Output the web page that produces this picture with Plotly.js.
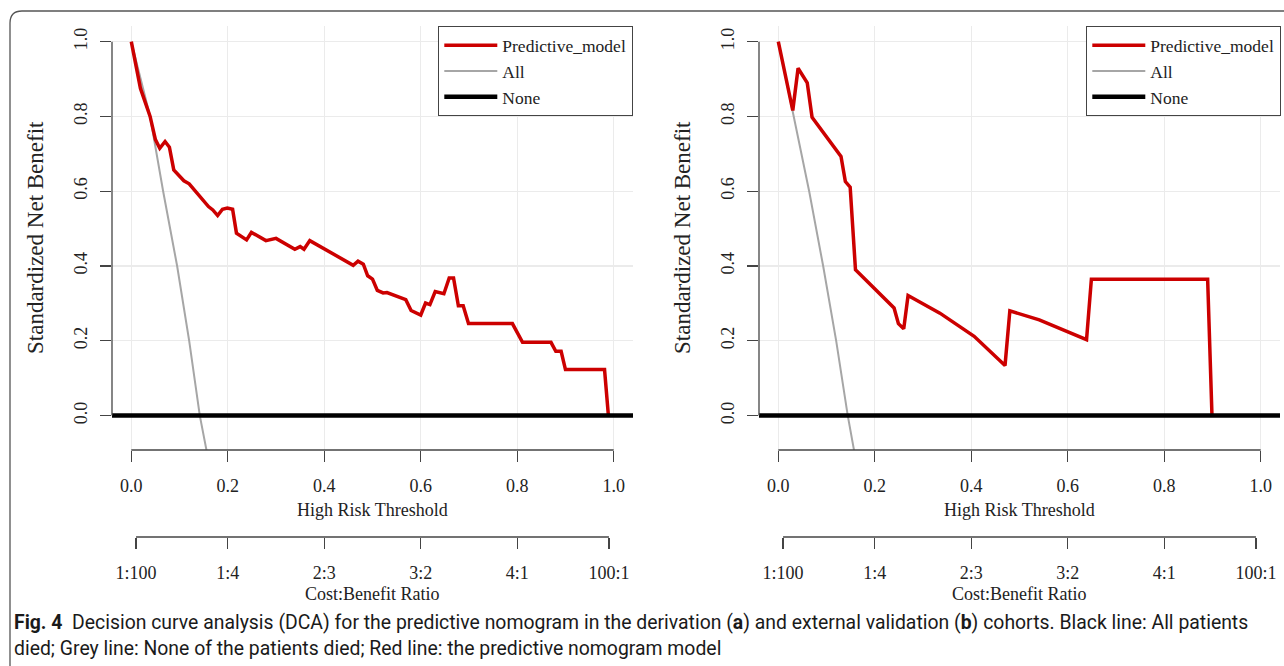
<!DOCTYPE html>
<html>
<head>
<meta charset="utf-8">
<script src="https://cdn.plot.ly/plotly-3.0.1.min.js"></script>
<style>
html,body{margin:0;padding:0;background:#fff;}
#chart{width:1284px;height:666px;}
</style>
</head>
<body>
<div id="chart"></div>
<script>
// ---------- data ----------
// Panel a (derivation cohort)
const thrA = [0, 0.019, 0.039, 0.05, 0.059, 0.07, 0.079, 0.088, 0.109, 0.12, 0.16, 0.169, 0.179, 0.189, 0.199, 0.21, 0.218, 0.239, 0.249, 0.279, 0.30, 0.339, 0.35, 0.358, 0.37, 0.46, 0.47, 0.481, 0.49, 0.5, 0.51, 0.522, 0.53, 0.569, 0.58, 0.6, 0.61, 0.619, 0.63, 0.648, 0.659, 0.668, 0.678, 0.688, 0.699, 0.79, 0.811, 0.87, 0.88, 0.891, 0.9, 0.981, 0.989];
const modelA = [1.0, 0.875, 0.80, 0.738, 0.715, 0.733, 0.718, 0.657, 0.628, 0.62, 0.559, 0.55, 0.535, 0.552, 0.555, 0.552, 0.488, 0.47, 0.49, 0.468, 0.474, 0.445, 0.452, 0.445, 0.468, 0.402, 0.413, 0.405, 0.374, 0.365, 0.335, 0.328, 0.329, 0.31, 0.281, 0.269, 0.301, 0.297, 0.332, 0.326, 0.368, 0.368, 0.294, 0.294, 0.246, 0.246, 0.196, 0.196, 0.172, 0.172, 0.123, 0.123, 0.0];
const allThrA = [0, 0.039, 0.066, 0.095, 0.12, 0.142, 0.157];
const allA = [1.0, 0.8, 0.6, 0.4, 0.2, 0.0, -0.1];

// Panel b (external validation cohort)
const thrB = [0, 0.03, 0.041, 0.06, 0.07, 0.1, 0.13, 0.139, 0.149, 0.16, 0.24, 0.249, 0.26, 0.269, 0.335, 0.406, 0.47, 0.48, 0.541, 0.639, 0.649, 0.89, 0.899];
const modelB = [1.0, 0.816, 0.929, 0.89, 0.798, 0.746, 0.693, 0.626, 0.611, 0.39, 0.288, 0.246, 0.232, 0.321, 0.274, 0.212, 0.134, 0.28, 0.256, 0.203, 0.365, 0.365, 0.0];
const allThrB = [0, 0.032, 0.064, 0.093, 0.12, 0.144, 0.158];
const allB = [1.0, 0.8, 0.6, 0.4, 0.2, 0.0, -0.1];

// "None" reference line (net benefit 0 over the whole threshold range)
const noneThr = [-0.04, 1.04];
const noneNB = [0, 0];

// ticks
const thrTicks = [0, 0.2, 0.4, 0.6, 0.8, 1.0];
const thrTickText = ['0.0', '0.2', '0.4', '0.6', '0.8', '1.0'];
const nbTicks = [0, 0.2, 0.4, 0.6, 0.8, 1.0];
const nbTickText = ['0.0', '0.2', '0.4', '0.6', '0.8', '1.0'];
const cbTicks = [1/101, 0.2, 0.4, 0.6, 0.8, 100/101];
const cbTickText = ['1:100', '1:4', '2:3', '3:2', '4:1', '100:1'];

const seriesNames = ['Predictive_model', 'All', 'None'];
const captionLine1 = '<b>Fig. 4</b>  Decision curve analysis (DCA) for the predictive nomogram in the derivation (<b>a</b>) and external validation (<b>b</b>) cohorts. Black line: All patients';
const captionLine2 = 'died; Grey line: None of the patients died; Red line: the predictive nomogram model';

// ---------- layout helpers ----------
const W = 1284, H = 666;
const fx = p => p / W;
const fy = p => 1 - p / H;
const SERIF = 'Liberation Serif, Times New Roman, serif';
const RED = '#cc0000', GREY = '#a6a6a6', AXC = '#444';

const panels = [
  {thr: thrA, model: modelA, allT: allThrA, all: allA, left: 112, right: 633, xa: 'x', ya: 'y', xb: 'x3', lg: 'legend'},
  {thr: thrB, model: modelB, allT: allThrB, all: allB, left: 759, right: 1280, xa: 'x2', ya: 'y2', xb: 'x4', lg: 'legend2'}
];

const traces = [];
panels.forEach(p => {
  traces.push({x: p.allT, y: p.all, xaxis: p.xa, yaxis: p.ya, mode: 'lines', name: seriesNames[1],
    line: {color: GREY, width: 2}, legend: p.lg, legendrank: 2, hoverinfo: 'skip'});
  traces.push({x: p.thr, y: p.model, xaxis: p.xa, yaxis: p.ya, mode: 'lines', name: seriesNames[0],
    line: {color: RED, width: 3.5}, legend: p.lg, legendrank: 1, hoverinfo: 'skip'});
  traces.push({x: noneThr, y: noneNB, xaxis: p.xb, yaxis: p.ya, mode: 'lines', name: seriesNames[2],
    line: {color: '#000', width: 4.5}, legend: p.lg, legendrank: 3, hoverinfo: 'skip'});
});

const plotTop = 26, plotBot = 450, cbAxisY = 537;
const yDomain = [fy(plotBot), fy(plotTop)];

function xMain(p) {
  return {domain: [fx(p.left), fx(p.right)], range: [-0.04, 1.04], anchor: p.ya,
    tickvals: thrTicks, ticktext: thrTickText, ticks: 'outside', ticklen: 11, tickwidth: 1.3, tickcolor: AXC,
    tickfont: {family: SERIF, size: 18, color: '#222'}, ticklabelstandoff: 8,
    showgrid: true, gridcolor: '#ebebeb', gridwidth: 1.2, zeroline: false, showline: false, fixedrange: true};
}
function xCB(p) {
  return {domain: [fx(p.left), fx(p.right)], range: [-0.04, 1.04], overlaying: p.xa, anchor: 'free',
    position: fy(cbAxisY), side: 'bottom',
    tickvals: cbTicks, ticktext: cbTickText, ticks: 'outside', ticklen: 11, tickwidth: 1.3, tickcolor: AXC,
    tickfont: {family: SERIF, size: 18, color: '#222'}, ticklabelstandoff: 8,
    showgrid: false, zeroline: false, showline: false, fixedrange: true};
}
function yMain(p) {
  return {domain: yDomain, range: [-0.092, 1.042], anchor: p.xa,
    tickvals: nbTicks, ticktext: nbTickText, tickangle: -90, ticks: 'outside', ticklen: 11, tickwidth: 1.3, tickcolor: AXC,
    tickfont: {family: SERIF, size: 18, color: '#222'}, ticklabelstandoff: 6,
    showgrid: true, gridcolor: '#ebebeb', gridwidth: 1.2, zeroline: false, showline: false, fixedrange: true};
}

const shapes = [];
const annotations = [];
panels.forEach(p => {
  // R-style axis lines spanning first to last tick
  shapes.push({type: 'line', xref: p.xa, yref: 'paper', x0: thrTicks[0], x1: thrTicks[thrTicks.length - 1],
    y0: fy(plotBot), y1: fy(plotBot), line: {color: AXC, width: 1.3}});
  shapes.push({type: 'line', xref: p.xa, yref: 'paper', x0: cbTicks[0], x1: cbTicks[cbTicks.length - 1],
    y0: fy(cbAxisY), y1: fy(cbAxisY), line: {color: AXC, width: 1.3}});
  shapes.push({type: 'line', xref: 'paper', yref: p.ya, x0: fx(p.left), x1: fx(p.left),
    y0: nbTicks[0], y1: nbTicks[nbTicks.length - 1], line: {color: AXC, width: 1.3}});
  const cx = fx((p.left + p.right) / 2);
  annotations.push({xref: 'paper', yref: 'paper', x: cx, y: fy(510), text: 'High Risk Threshold', showarrow: false,
    xanchor: 'center', yanchor: 'middle', font: {family: SERIF, size: 18, color: '#222'}});
  annotations.push({xref: 'paper', yref: 'paper', x: cx, y: fy(594), text: 'Cost:Benefit Ratio', showarrow: false,
    xanchor: 'center', yanchor: 'middle', font: {family: SERIF, size: 18, color: '#222'}});
  annotations.push({xref: 'paper', yref: 'paper', x: fx(p.left - 77), y: fy(238), text: 'Standardized Net Benefit', showarrow: false,
    textangle: -90, xanchor: 'center', yanchor: 'middle', font: {family: SERIF, size: 23, color: '#222'}});
});

// figure frame (rounded top-left corner)
shapes.push({type: 'path', xref: 'paper', yref: 'paper',
  path: `M ${fx(10)} 0 L ${fx(10)} ${fy(23)} Q ${fx(10)} ${fy(11)} ${fx(22)} ${fy(11)} L 1 ${fy(11)}`,
  line: {color: '#555', width: 1.3}});

const CAPFONT = 'Roboto, Noto Sans, sans-serif';
annotations.push({xref: 'paper', yref: 'paper', x: fx(12), y: fy(622), text: captionLine1, showarrow: false,
  xanchor: 'left', yanchor: 'middle', align: 'left', font: {family: CAPFONT, size: 19.4, color: '#1a1a1a'}});
annotations.push({xref: 'paper', yref: 'paper', x: fx(12), y: fy(648), text: captionLine2, showarrow: false,
  xanchor: 'left', yanchor: 'middle', align: 'left', font: {family: CAPFONT, size: 19.4, color: '#1a1a1a'}});

const legendBase = {xanchor: 'right', yanchor: 'top', y: fy(26), bgcolor: '#fff', bordercolor: AXC, borderwidth: 1.3,
  font: {family: SERIF, size: 17.5, color: '#222'}, traceorder: 'normal', itemwidth: 53, tracegroupgap: 0};

const layout = {
  width: W, height: H, margin: {l: 0, r: 0, t: 0, b: 0},
  paper_bgcolor: '#fff', plot_bgcolor: '#fff',
  showlegend: true,
  xaxis: xMain(panels[0]), yaxis: yMain(panels[0]), xaxis3: xCB(panels[0]),
  xaxis2: xMain(panels[1]), yaxis2: yMain(panels[1]), xaxis4: xCB(panels[1]),
  legend: Object.assign({}, legendBase, {x: fx(633)}),
  legend2: Object.assign({}, legendBase, {x: fx(1281)}),
  shapes: shapes, annotations: annotations
};

Plotly.newPlot('chart', traces, layout, {staticPlot: true, displayModeBar: false});
</script>
</body>
</html>
